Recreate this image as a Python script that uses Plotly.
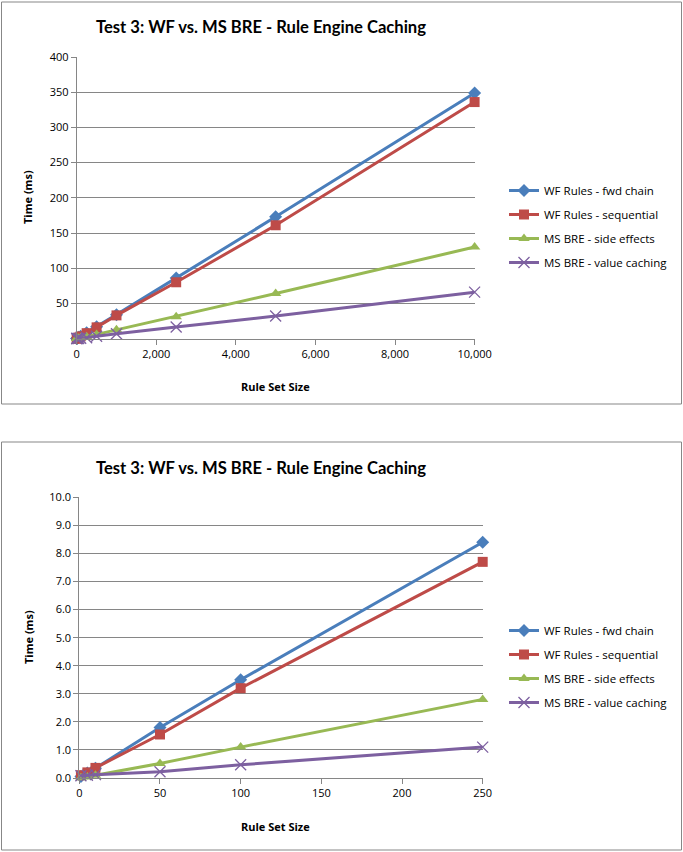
import plotly.graph_objects as go

W, H = 683, 852

# ---------------- data ----------------
series_names = ["WF Rules - fwd chain", "WF Rules - sequential",
                "MS BRE - side effects", "MS BRE - value caching"]
colors = ["#4A7EBB", "#BE4B48", "#98B954", "#7D60A0"]
symbols = ["diamond", "square", "triangle-up", "x-thin-open"]
msizes = [10, 10, 10, 10]

x_top = [1, 5, 10, 50, 100, 250, 500, 1000, 2500, 5000, 10000]
fwd_top = [0.05, 0.18, 0.35, 1.8, 3.5, 8.4, 17, 34, 86, 173, 349]
seq_top = [0.1, 0.2, 0.36, 1.55, 3.2, 7.7, 16, 33, 80, 161, 336]
side_top = [0.01, 0.04, 0.1, 0.52, 1.1, 2.8, 6, 12.5, 31, 64, 130]
cache_top = [0.08, 0.1, 0.12, 0.22, 0.47, 1.1, 3.3, 7, 16.5, 32, 66]

x_bot = [1, 5, 10, 50, 100, 250]
fwd_bot = [0.05, 0.18, 0.35, 1.8, 3.5, 8.4]
seq_bot = [0.1, 0.2, 0.36, 1.55, 3.2, 7.7]
side_bot = [0.01, 0.04, 0.1, 0.52, 1.1, 2.8]
cache_bot = [0.08, 0.1, 0.12, 0.22, 0.47, 1.1]

top_xticks = [0, 2000, 4000, 6000, 8000, 10000]
top_yticks = [50, 100, 150, 200, 250, 300, 350, 400]
bot_xticks = [0, 50, 100, 150, 200, 250]
bot_yticks = [0, 1, 2, 3, 4, 5, 6, 7, 8, 9, 10]

title_text = "Test 3: WF vs. MS BRE - Rule Engine Caching"
x_title = "Rule Set Size"
y_title = "Time (ms)"

# ---------------- helpers ----------------
def px(x):
    return x / W

def py(y):
    return 1 - y / H

FONT = "Open Sans"
grid_c = "#868686"

fig = go.Figure()

top_sets = [fwd_top, seq_top, side_top, cache_top]
bot_sets = [fwd_bot, seq_bot, side_bot, cache_bot]

def marker(i):
    mk = dict(symbol=symbols[i], size=msizes[i], color=colors[i])
    if symbols[i].startswith("x"):
        mk["line"] = dict(color=colors[i], width=1.3)
        mk["size"] = 11
    return mk

for i, name in enumerate(series_names):
    fig.add_trace(go.Scatter(
        x=x_top, y=top_sets[i], name=name, mode="lines+markers",
        line=dict(color=colors[i], width=3), marker=marker(i),
        xaxis="x", yaxis="y", legend="legend", legendgroup="t%d" % i,
        cliponaxis=False))
for i, name in enumerate(series_names):
    fig.add_trace(go.Scatter(
        x=x_bot, y=bot_sets[i], name=name, mode="lines+markers",
        line=dict(color=colors[i], width=3), marker=marker(i),
        xaxis="x2", yaxis="y2", legend="legend2", legendgroup="b%d" % i,
        cliponaxis=False))

axis_common = dict(showline=True, linecolor=grid_c, linewidth=1,
                   ticks="outside", ticklen=5, tickcolor=grid_c,
                   tickfont=dict(family=FONT, size=11, color="#000000"),
                   zeroline=False, automargin=False)

legend_common = dict(xanchor="left", yanchor="top",
                     font=dict(family=FONT, size=11.5, color="#000000"),
                     tracegroupgap=5, bgcolor="rgba(0,0,0,0)")

fig.update_layout(
    width=W, height=H, autosize=False,
    margin=dict(l=0, r=0, t=0, b=0, pad=0, autoexpand=False),
    paper_bgcolor="white", plot_bgcolor="white",
    xaxis=dict(domain=[px(76.7), px(474.6)], range=[0, 10000],
               tickvals=top_xticks, tickformat=",", showgrid=False,
               anchor="y", **axis_common),
    yaxis=dict(domain=[py(338.6), py(57)], range=[0, 400],
               tickvals=top_yticks, showgrid=True, gridcolor=grid_c,
               gridwidth=1, anchor="x", **axis_common),
    xaxis2=dict(domain=[px(79.3), px(482.7)], range=[0, 250],
                tickvals=bot_xticks, showgrid=False, anchor="y2",
                **axis_common),
    yaxis2=dict(domain=[py(778), py(497.3)], range=[0, 10],
                tickvals=bot_yticks, tickformat=".1f", showgrid=True,
                gridcolor=grid_c, gridwidth=1, anchor="x2", **axis_common),
    legend=dict(x=px(504), y=py(176), **legend_common),
    legend2=dict(x=px(504), y=py(616), **legend_common),
    showlegend=True,
)

# chart borders
for (y0, y1) in [(2, 404), (442, 850)]:
    fig.add_shape(type="rect", xref="paper", yref="paper",
                  x0=px(1.5), x1=px(681.5), y0=py(y1), y1=py(y0),
                  line=dict(color="#878787", width=1), fillcolor="rgba(0,0,0,0)",
                  layer="below")

# titles and axis titles
for (ty, xty, yty) in [(27, 386, 197), (468, 826, 637)]:
    fig.add_annotation(x=px(261), y=py(ty), xref="paper", yref="paper",
                       text="<b>%s</b>" % title_text, showarrow=False,
                       font=dict(family="Lato", size=16.6, color="#000000"),
                       xanchor="center", yanchor="middle")
    fig.add_annotation(x=px(275), y=py(xty), xref="paper", yref="paper",
                       text="<b>%s</b>" % x_title, showarrow=False,
                       font=dict(family=FONT, size=11, color="#000000"),
                       xanchor="center", yanchor="middle")
    fig.add_annotation(x=px(28), y=py(yty), xref="paper", yref="paper",
                       text="<b>%s</b>" % y_title, showarrow=False, textangle=-90,
                       font=dict(family=FONT, size=11, color="#000000"),
                       xanchor="center", yanchor="middle")

fig.write_html("out.html")
